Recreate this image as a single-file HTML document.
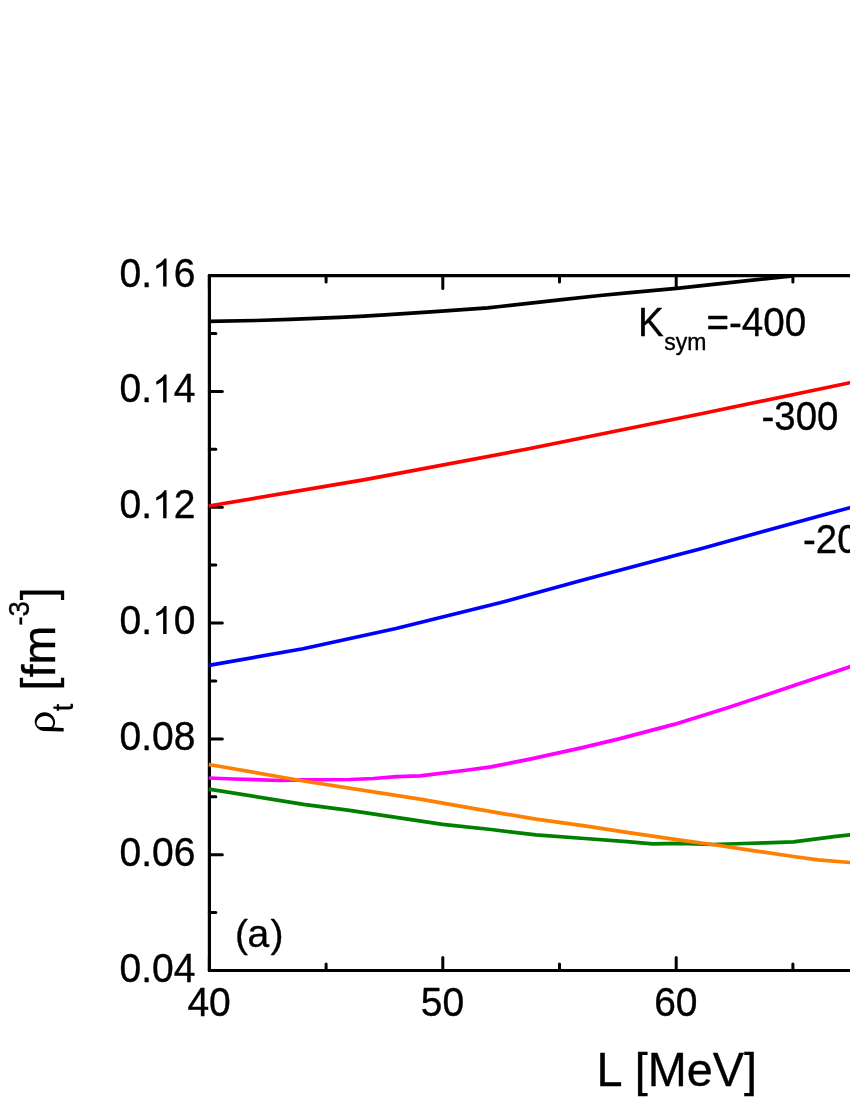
<!DOCTYPE html>
<html><head><meta charset="utf-8"><title>chart</title>
<style>html,body{margin:0;padding:0;background:#fff;}body{width:850px;height:1100px;overflow:hidden;font-family:"Liberation Sans",sans-serif;}svg{display:block;will-change:transform;}</style>
</head><body>
<svg width="850" height="1100" viewBox="0 0 850 1100">
<rect width="850" height="1100" fill="#fff"/>
<g stroke="#000" fill="none" stroke-linecap="round">
<path d="M860 275.6 H209.4 V970.5 H860" stroke-width="3.20" stroke-linejoin="round"/>
<path d="M209.4 970.5 h12.9" stroke-width="3.00"/>
<path d="M209.4 912.6 h6.4" stroke-width="3.00"/>
<path d="M209.4 854.7 h12.9" stroke-width="3.00"/>
<path d="M209.4 796.8 h6.4" stroke-width="3.00"/>
<path d="M209.4 738.9 h12.9" stroke-width="3.00"/>
<path d="M209.4 681.0 h6.4" stroke-width="3.00"/>
<path d="M209.4 623.0 h12.9" stroke-width="3.00"/>
<path d="M209.4 565.1 h6.4" stroke-width="3.00"/>
<path d="M209.4 507.2 h12.9" stroke-width="3.00"/>
<path d="M209.4 449.3 h6.4" stroke-width="3.00"/>
<path d="M209.4 391.4 h12.9" stroke-width="3.00"/>
<path d="M209.4 333.5 h6.4" stroke-width="3.00"/>
<path d="M209.4 275.6 h12.9" stroke-width="3.00"/>
<path d="M209.4 970.5 v-12.9" stroke-width="3.00"/>
<path d="M209.4 275.6 v12.9" stroke-width="3.00"/>
<path d="M326.1 970.5 v-6.4" stroke-width="3.00"/>
<path d="M326.1 275.6 v6.4" stroke-width="3.00"/>
<path d="M442.8 970.5 v-12.9" stroke-width="3.00"/>
<path d="M442.8 275.6 v12.9" stroke-width="3.00"/>
<path d="M559.5 970.5 v-6.4" stroke-width="3.00"/>
<path d="M559.5 275.6 v6.4" stroke-width="3.00"/>
<path d="M676.2 970.5 v-12.9" stroke-width="3.00"/>
<path d="M676.2 275.6 v12.9" stroke-width="3.00"/>
<path d="M792.9 970.5 v-6.4" stroke-width="3.00"/>
<path d="M792.9 275.6 v6.4" stroke-width="3.00"/>
</g>
<g fill="none" stroke-linejoin="round" stroke-linecap="butt" stroke-width="3.70">
<path d="M208.8 321.3 L256.0 320.5 L290.0 319.3 L339.4 317.3 L360.0 316.4 L388.8 314.6 L438.2 311.3 L487.6 307.8 L500.0 306.5 L559.8 299.9 L600.0 295.5 L630.0 292.7 L676.6 288.3 L792.8 275.8" stroke="#000000"/>
<path d="M208.8 506.0 L365.0 479.6 L530.0 448.5 L700.0 414.0 L850.0 382.7 L860.0 380.6" stroke="#ff0000"/>
<path d="M208.8 665.4 L303.0 648.7 L396.0 628.5 L500.0 602.8 L583.0 580.0 L676.0 555.3 L700.0 549.0 L763.0 531.5 L850.0 507.7 L860.0 505.0" stroke="#0000ff"/>
<path d="M208.8 778.0 L233.6 779.0 L280.2 780.5 L303.5 779.8 L350.0 779.5 L373.4 778.5 L396.7 776.7 L420.0 775.9 L467.9 770.0 L491.0 766.9 L530.0 759.1 L582.4 747.6 L620.0 738.6 L674.0 724.4 L690.0 719.6 L727.6 707.7 L765.3 695.2 L802.9 682.6 L850.0 666.7 L860.0 663.3" stroke="#ff00ff"/>
<path d="M208.8 789.1 L303.5 804.3 L349.5 810.4 L396.0 817.3 L442.6 824.3 L491.0 829.5 L536.0 834.9 L584.7 838.5 L627.0 841.7 L652.5 843.8 L680.0 843.4 L712.4 844.5 L744.0 843.5 L765.3 842.8 L793.5 841.9 L814.7 839.2 L835.9 836.3 L850.0 834.8 L860.0 834.0" stroke="#008000"/>
<path d="M208.8 764.5 L303.5 781.0 L420.0 799.2 L500.0 813.1 L536.0 819.1 L584.7 825.8 L627.0 832.4 L680.0 840.2 L712.4 844.5 L754.7 850.9 L797.0 857.0 L818.2 859.8 L850.0 862.5 L860.0 863.3" stroke="#ff8000"/>
</g>
<g font-family="'Liberation Sans', sans-serif" fill="#000" stroke="#000" stroke-width="0.35" stroke-linejoin="round">
<text transform="translate(195.40 981.50) scale(1.0000 1.0400)" font-size="39" text-anchor="end">0.04</text>
<text transform="translate(195.40 865.68) scale(1.0000 1.0400)" font-size="39" text-anchor="end">0.06</text>
<text transform="translate(195.40 749.87) scale(1.0000 1.0400)" font-size="39" text-anchor="end">0.08</text>
<text transform="translate(152.03 634.05) scale(1.0000 1.0400)" font-size="39" text-anchor="end">0.</text>
<path transform="translate(152.03 634.05) scale(0.01904)" d="M763 0H583V-1147Q518 -1085 412.5 -1023Q307 -961 223 -930V-1104Q374 -1175 487 -1276Q600 -1377 647 -1472H763Z" stroke="none"/>
<text transform="translate(173.72 634.05) scale(1.0000 1.0400)" font-size="39" text-anchor="start">0</text>
<text transform="translate(152.03 518.23) scale(1.0000 1.0400)" font-size="39" text-anchor="end">0.</text>
<path transform="translate(152.03 518.23) scale(0.01904)" d="M763 0H583V-1147Q518 -1085 412.5 -1023Q307 -961 223 -930V-1104Q374 -1175 487 -1276Q600 -1377 647 -1472H763Z" stroke="none"/>
<text transform="translate(173.72 518.23) scale(1.0000 1.0400)" font-size="39" text-anchor="start">2</text>
<text transform="translate(152.03 402.42) scale(1.0000 1.0400)" font-size="39" text-anchor="end">0.</text>
<path transform="translate(152.03 402.42) scale(0.01904)" d="M763 0H583V-1147Q518 -1085 412.5 -1023Q307 -961 223 -930V-1104Q374 -1175 487 -1276Q600 -1377 647 -1472H763Z" stroke="none"/>
<text transform="translate(173.72 402.42) scale(1.0000 1.0400)" font-size="39" text-anchor="start">4</text>
<text transform="translate(152.03 286.60) scale(1.0000 1.0400)" font-size="39" text-anchor="end">0.</text>
<path transform="translate(152.03 286.60) scale(0.01904)" d="M763 0H583V-1147Q518 -1085 412.5 -1023Q307 -961 223 -930V-1104Q374 -1175 487 -1276Q600 -1377 647 -1472H763Z" stroke="none"/>
<text transform="translate(173.72 286.60) scale(1.0000 1.0400)" font-size="39" text-anchor="start">6</text>
<text transform="translate(209.10 1015.60) scale(1.0000 1.0400)" font-size="39" text-anchor="middle">40</text>
<text transform="translate(442.48 1015.60) scale(1.0000 1.0400)" font-size="39" text-anchor="middle">50</text>
<text transform="translate(675.86 1015.60) scale(1.0000 1.0400)" font-size="39" text-anchor="middle">60</text>
<text transform="translate(909.24 1015.60) scale(1.0000 1.0400)" font-size="39" text-anchor="middle">70</text>
<text transform="translate(235.10 946.60)" font-size="39" text-anchor="start">(</text>
<text transform="translate(247.60 946.60)" font-size="39" text-anchor="start">a</text>
<text transform="translate(270.50 946.60)" font-size="39" text-anchor="start">)</text>
<text transform="translate(638.00 335.50) scale(1.0000 1.0400)" font-size="38.6" text-anchor="start">K</text>
<text transform="translate(664.30 350.00)" font-size="23" text-anchor="start">sym</text>
<text transform="translate(706.40 335.50) scale(1.0000 1.0400)" font-size="38.6" text-anchor="start">=-400</text>
<text transform="translate(761.50 430.10) scale(1.0000 1.0400)" font-size="38.4" text-anchor="start">-300</text>
<text transform="translate(803.00 552.50) scale(1.0000 1.0400)" font-size="38.4" text-anchor="start">-200</text>
<text transform="translate(596.60 1086.40) scale(1.0000 1.0400)" font-size="46.8" text-anchor="start">L</text>
<text transform="translate(634.80 1085.80) scale(1.0000 0.9820)" font-size="46.8" text-anchor="start">[</text>
<text transform="translate(647.81 1086.40) scale(1.0000 1.0400)" font-size="46.8" text-anchor="start">M</text>
<text transform="translate(686.79 1086.40) scale(1.0000 0.9850)" font-size="46.8" text-anchor="start">e</text>
<text transform="translate(712.82 1086.40) scale(1.0000 1.0400)" font-size="46.8" text-anchor="start">V</text>
<text transform="translate(744.03 1085.80) scale(1.0000 0.9820)" font-size="46.8" text-anchor="start">]</text>
<text transform="translate(53.70 690.40) rotate(-90) scale(1.0000 0.9870)" font-size="46.5" text-anchor="start">[</text>
<text transform="translate(54.50 677.47) rotate(-90)" font-size="46.5" text-anchor="start">fm</text>
<text transform="translate(28.70 625.60) rotate(-90) scale(1.0000 1.0400)" font-size="27.5" text-anchor="start">-3</text>
<text transform="translate(53.70 600.20) rotate(-90) scale(1.0000 0.9870)" font-size="46.5" text-anchor="start">]</text>
<text transform="translate(72.50 711.20) rotate(-90) scale(1.0000 1.1000)" font-size="27" text-anchor="start">t</text>
</g>
<path d="M63.65 728.06 L63.65 731.59 L44.12 730.88 C39.41 730.65 34.94 727.12 34.71 721.94 C34.61 717.24 38.94 712.29 44.59 712.29 C50.24 712.29 55.18 716.76 55.08 722.41 C55.04 724.76 54.24 726.41 53.29 727.59 Z M51.18 727.12 C52.35 726.18 53.15 724.29 53.06 722.18 C52.96 718.65 49.29 715.92 45.06 715.92 C40.82 715.92 36.59 719.12 36.59 723.12 C36.59 725.24 37.76 726.41 39.41 727.12 Z" fill="#000" fill-rule="evenodd"/>
</svg>
</body></html>
